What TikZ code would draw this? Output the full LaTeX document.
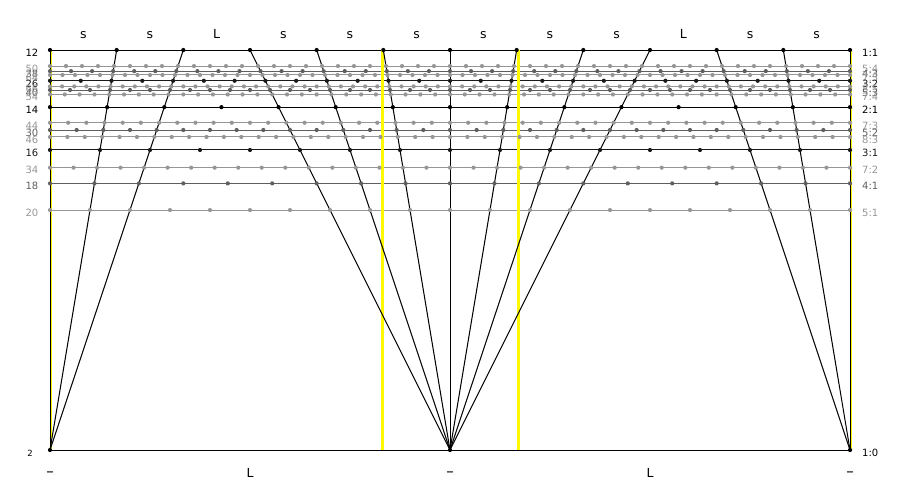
\documentclass[tikz,border=0pt]{standalone}
\usepackage{fontspec}
\setmainfont{DejaVu Sans}
\definecolor{lvA}{RGB}{0,0,0}
\definecolor{lvB}{RGB}{0,0,0}
\definecolor{lvC}{RGB}{25,25,25}
\definecolor{lvD}{RGB}{95,95,95}
\definecolor{lvE}{RGB}{150,150,150}
\definecolor{yel}{RGB}{255,250,0}
\tikzset{
  hl/.style={line width=1.0pt},
  sl/.style={line width=1.0pt, draw=black},
  yl/.style={line width=2.6pt, draw=yel},
  dotn/.style={circle, inner sep=0pt, minimum size=4.2pt},
  lab/.style={font=\fontsize{10}{10}\selectfont, inner sep=0pt},
  steplab/.style={font=\fontsize{12.5}{12.5}\selectfont, inner sep=0pt, anchor=base},
  dashlab/.style={font=\fontsize{15}{15}\selectfont, inner sep=0pt, anchor=base},
}
\begin{document}
\begin{tikzpicture}[x=1pt,y=-1pt]
\useasboundingbox (0,0) rectangle (900,500);
\def\ratios{1/1/lvA, 5/4/lvE, 4/3/lvD, 7/5/lvE, 3/2/lvC, 8/5/lvE, 5/3/lvD, 7/4/lvE, 2/1/lvB, 7/3/lvE, 5/2/lvD, 8/3/lvE, 3/1/lvC, 7/2/lvE, 4/1/lvD, 5/1/lvE, 1/0/lvA}
% horizontal lines
\foreach \L/\s/\c in \ratios {
  \pgfmathtruncatemacro\N{2*\L+10*\s}
  \pgfmathsetmacro\yy{450-4800*(\s/\N)}
  \coordinate (l\N) at (50,\yy);
  \coordinate (r\N) at (850,\yy);
  \draw[hl, draw=\c] (l\N) -- (r\N);
}
% yellow reference lines
\coordinate (ya0) at (51,50);   \coordinate (yb0) at (51,450);
\coordinate (ya1) at (382.5,50); \coordinate (yb1) at (382.5,450);
\coordinate (ya2) at (518.2,50); \coordinate (yb2) at (518.2,450);
\coordinate (ya3) at (851,50);  \coordinate (yb3) at (851,450);
\foreach \i in {0,1,2,3} { \draw[yl] (ya\i) -- (yb\i); }
% top and bottom anchor points
\foreach \k in {0,...,12} { \coordinate (t\k) at ({50+800*(\k/12)},50); }
\coordinate (b0) at (50,450);
\coordinate (b1) at (450,450);
\coordinate (b2) at (850,450);
\foreach \k/\a in {0/0,1/0,2/0,3/1,4/1,5/1,6/1,7/1,8/1,9/1,10/2,11/2,12/2} {
  \draw[sl] (t\k) -- (b\a);
}
% dots
\foreach \L/\s/\c in \ratios {
  \pgfmathtruncatemacro\N{2*\L+10*\s}
  \pgfmathsetmacro\yy{450-4800*(\s/\N)}
  \foreach \j in {0,...,\N} {
    \node[dotn, fill=\c] (d\N-\j) at ({50+800*(\j/\N)},\yy) {};
  }
}
% labels
\foreach \L/\s/\c in {1/1/lvA, 5/4/lvE, 4/3/lvD, 7/5/lvE, 3/2/lvC, 8/5/lvE, 5/3/lvD, 7/4/lvE, 2/1/lvB, 7/3/lvE, 5/2/lvD, 8/3/lvE, 3/1/lvC, 7/2/lvE, 4/1/lvD, 5/1/lvE} {
  \pgfmathtruncatemacro\N{2*\L+10*\s}
  \pgfmathsetmacro\yy{450-4800*(\s/\N)}
  \node[lab, anchor=base east, text=\c] (nl\N) at (38.5,\yy+6.3) {\N};
  \node[lab, anchor=base west, text=\c] (nr\N) at (862,\yy+6.3) {\L:\s};
}
\node[inner sep=0pt, anchor=base, font=\fontsize{8.5}{8.5}\selectfont] (nl2) at (30,456) {2};
\node[lab, anchor=base west] (nr2) at (862,456.3) {1:0};
% step labels
\foreach \k/\t in {0/s,1/s,2/L,3/s,4/s,5/s,6/s,7/s,8/s,9/L,10/s,11/s} {
  \node[steplab] (st\k) at ({50+800*((\k+0.5)/12)},38.5) {\t};
}
\foreach \x in {50,450,850} {
  \node[dashlab] (sb\x) at (\x,476.5) {–};
}
\foreach \x in {250,650} {
  \node[steplab] (sb\x) at (\x,477) {L};
}
\end{tikzpicture}
\end{document}
